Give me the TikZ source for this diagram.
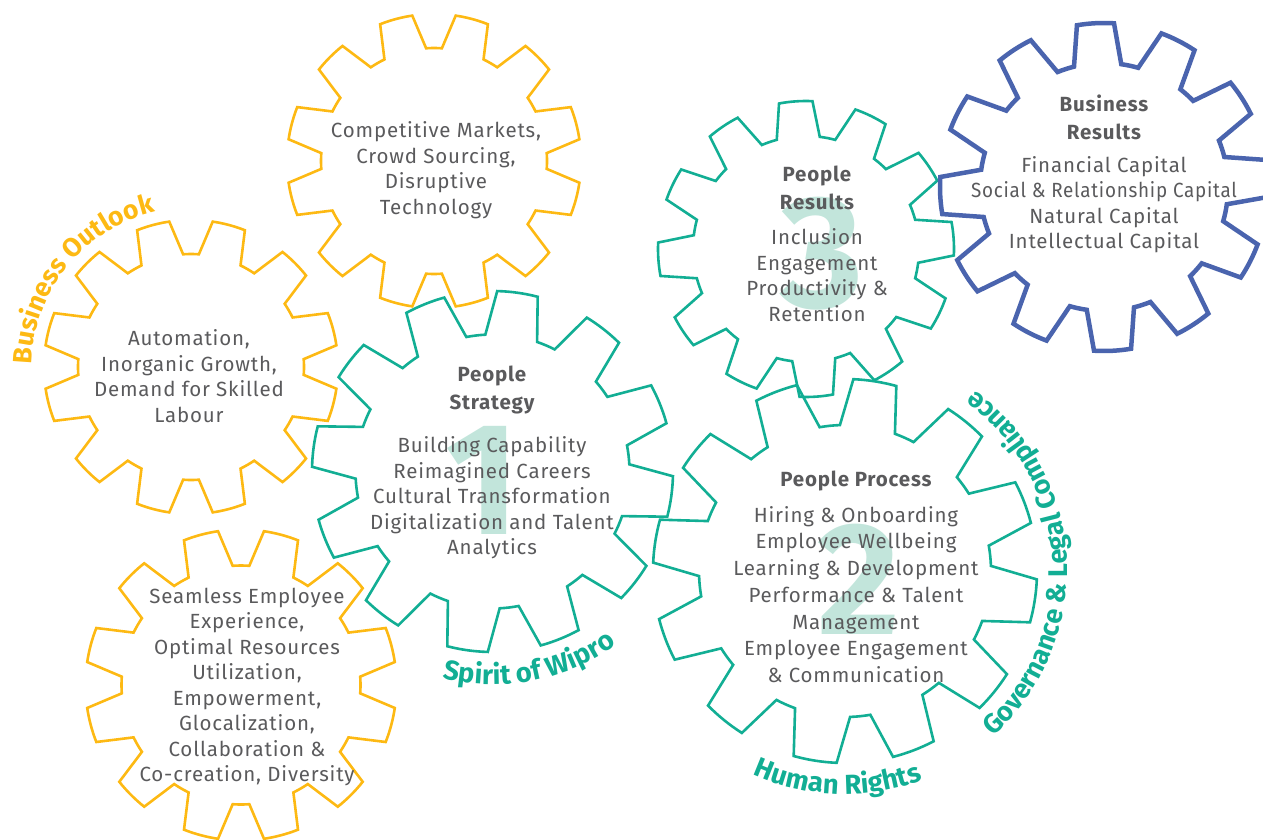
\documentclass[tikz,border=0pt]{standalone}
\usepackage{fontspec}
\setmainfont{Fira Sans}
\usetikzlibrary{decorations.text}
\definecolor{gy}{HTML}{FDB913}
\definecolor{tl}{HTML}{12AE94}
\definecolor{bl}{HTML}{4A64AE}
\definecolor{tx}{HTML}{5A5A5C}
\definecolor{num}{HTML}{C2E5DB}
% #1 cx, #2 cy (image coords), #3 rin, #4 rout, #5 tooth offset, #6 style
\newcommand\mygear[6]{%
  \begin{scope}[shift={(#1,-#2)}]
  \draw[#6] ({#5-11}:#3pt)
    \foreach \k in {0,...,11}{
      -- ({#5+30*\k-11}:#3pt) -- ({#5+30*\k-6.5}:#4pt)
      arc[start angle={#5+30*\k-6.5}, end angle={#5+30*\k+6.5}, radius=#4pt]
      -- ({#5+30*\k+11}:#3pt)
      arc[start angle={#5+30*\k+11}, end angle={#5+30*\k+19}, radius=#3pt]
    } -- cycle;
  \end{scope}}
\tikzset{
  ygear/.style={draw=gy, line width=2.6pt},
  tgear/.style={draw=tl, line width=2.6pt},
  bgear/.style={draw=bl, line width=4.5pt},
  body/.style={align=center, text=tx, font=\fontsize{20.5}{25.5}\selectfont\addfontfeature{LetterSpace=4}, inner sep=0pt},
  head/.style={align=center, text=tx, font=\fontsize{20.5}{28}\selectfont\bfseries\addfontfeature{LetterSpace=4}, inner sep=0pt},
  bignum/.style={text=num, font=\fontsize{160}{160}\selectfont\bfseries, inner sep=0pt}
}
\begin{document}
\begin{tikzpicture}[x=1pt,y=1pt]
\useasboundingbox (0,0) rectangle (1263,-840);
% big numbers (behind)
\node[bignum] (n1) at (483,-480) {1};
\node[bignum] (n2) at (859,-579) {2};
\node[bignum] (n3) at (822,-254) {3};
% gears
\mygear{434}{161}{113}{147}{15}{ygear}
\mygear{191}{367}{113}{147}{15}{ygear}
\mygear{241}{685}{119.5}{155.5}{15}{ygear}
\mygear{492.5}{471.5}{137}{180.5}{22}{tgear}
\mygear{806}{249}{113}{148}{4}{tgear}
\mygear{1104}{187}{124}{164}{3}{bgear}
\mygear{845}{571}{146}{192}{21}{tgear}
% texts
\node[body] (ta) at (436,-170) {Competitive Markets,\\Crowd Sourcing,\\Disruptive\\Technology};
\node[body] (tb) at (189,-376) {Automation,\\Inorganic Growth,\\Demand for Skilled\\Labour};
\node[body] (tc) at (247,-687) {Seamless Employee\\Experience,\\Optimal Resources\\Utilization,\\Empowerment,\\Glocalization,\\Collaboration \&\\Co-creation, Diversity};
\node[head] (hd) at (492,-390) {People\\Strategy};
\node[body] (td) at (492,-498) {Building Capability\\Reimagined Careers\\Cultural Transformation\\Digitalization and Talent\\Analytics};
\node[head] (he) at (817,-187.5) {People\\Results};
\node[body] (te) at (817,-275) {Inclusion\\Engagement\\Productivity \&\\Retention};
\node[head] (hf) at (1104,-117) {Business\\Results};
\node[body] (tf) at (1104,-204.5) {Financial Capital\\\scalebox{0.92}[1]{Social \& Relationship Capital}\\Natural Capital\\Intellectual Capital};
\node[head] (hg) at (856,-481) {People Process};
\node[body, font=\fontsize{20.5}{26.7}\selectfont\addfontfeature{LetterSpace=4}] (tg) at (856,-594.5) {Hiring \& Onboarding\\Employee Wellbeing\\Learning \& Development\\Performance \& Talent\\Management\\Employee Engagement\\\& Communication};
% curved labels
\path[decorate, decoration={text along path, text align=center, text color=gy,
  text={|\fontsize{26.5}{26.5}\selectfont\bfseries|Business Outlook}}]
  (191,-367) ++(200:159pt) arc[start angle=200, end angle=82, radius=159pt];
\path[decorate, decoration={text along path, text align=center, text color=tl,
  text={|\fontsize{27.5}{27.5}\selectfont\bfseries|Spirit of Wipro}}]
  (492.5,-471.5) ++(221:213pt) arc[start angle=221, end angle=341, radius=213pt];
\path[decorate, decoration={text along path, text align=center, text color=tl,
  text={|\fontsize{27.5}{27.5}\selectfont\bfseries|Human Rights}}]
  (845,-571) ++(215:223pt) arc[start angle=215, end angle=321, radius=223pt];
\path[decorate, decoration={text along path, text align=center, text color=tl,
  text={|\fontsize{27}{27}\selectfont\bfseries|Governance {\&} Legal Compliance}}]
  (845,-571) ++(-80:222pt) arc[start angle=-80, end angle=86, radius=222pt];
\end{tikzpicture}
\end{document}
